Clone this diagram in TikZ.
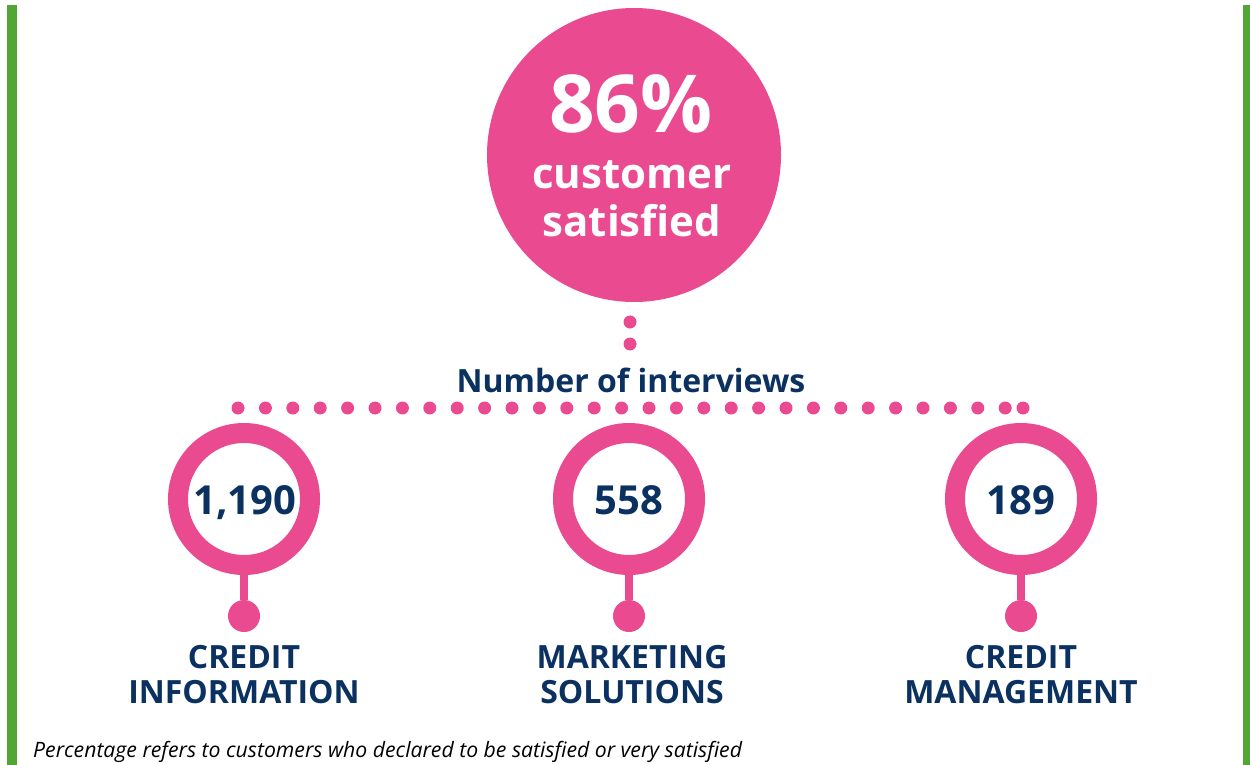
\documentclass[tikz,border=0pt]{standalone}
\usepackage{fontspec}
\setmainfont{Open Sans}

\definecolor{satpink}{HTML}{E94A90}
\definecolor{satnavy}{HTML}{0B3160}
\definecolor{bargreen}{HTML}{52A633}

\tikzset{
  bigdisc/.style   = {circle, fill=satpink, minimum size=294pt, inner sep=0pt},
  ring/.style      = {circle, draw=satpink, line width=20pt, fill=white,
                      minimum size=132pt, inner sep=0pt},
  count/.style     = {anchor=base, text=satnavy,
                      font=\bfseries\fontsize{40}{40}\selectfont},
  knob/.style      = {circle, fill=satpink, minimum size=32pt, inner sep=0pt},
  stem/.style      = {draw=satpink, line width=8pt},
  dot/.style       = {circle, fill=satpink, minimum size=13pt, inner sep=0pt},
  unitlabel/.style = {anchor=base, text=satnavy, align=center,
                      font=\bfseries\fontsize{32}{35}\selectfont},
}

\begin{document}
\begin{tikzpicture}[x=1pt,y=-1pt]

\useasboundingbox (0,0) rectangle (1250,765);

%%% side bars
\fill[bargreen] (7,5) rectangle (17,765);
\fill[bargreen] (1243,5) rectangle (1250,765);

%%% satisfaction disc
  \node[bigdisc] (sat) at (634,155) {};
  \node[anchor=base, text=white, font=\bfseries\fontsize{80}{80}\selectfont]
       (pct) at (631,132) {86\%};
  \node[anchor=base, text=white, font=\bfseries\fontsize{42}{48}\selectfont,
        align=center] (satx) at (632,236) {customer\\satisfied};

%%% dots down to the interviews
  \node[dot] (v1) at (630,322) {};
  \node[dot] (v2) at (630,344) {};
  \node[anchor=base, text=satnavy, font=\bfseries\fontsize{32}{32}\selectfont]
       (nint) at (631,392) {Number of interviews};

  \foreach \i in {0,...,28}
     \node[dot] (h\i) at (238+27.4*\i,408) {};
  \node[dot] (hend) at (1023,408) {};

%%% the three units
   \node[ring] (ci) at (244,499) {};
   \node[ring] (ms) at (629,499) {};
   \node[ring] (cm) at (1021,499) {};

   \node[count] (nci) at (245,514) {1,190};
   \node[count] (nms) at (629,514) {558};
   \node[count] (ncm) at (1021,514) {189};

   \node[knob] (kci) at (244,616) {};
   \node[knob] (kms) at (629,616) {};
   \node[knob] (kcm) at (1021,616) {};

   \draw[stem] (ci.south) -- (kci);
   \draw[stem] (ms.south) -- (kms);
   \draw[stem] (cm.south) -- (kcm);

   \node[unitlabel] (lci) at (244,703) {CREDIT\\INFORMATION};
   \node[unitlabel] (lms) at (632,703) {MARKETING\\SOLUTIONS};
   \node[unitlabel] (lcm) at (1021,703) {CREDIT\\MANAGEMENT};

%%% footnote
  \node[anchor=base west, text=black, inner sep=0pt,
        font=\itshape\fontsize{21.2}{21.2}\selectfont]
       (note) at (33,757) {Percentage refers to customers who declared to be satisfied or very satisfied};

\end{tikzpicture}
\end{document}
